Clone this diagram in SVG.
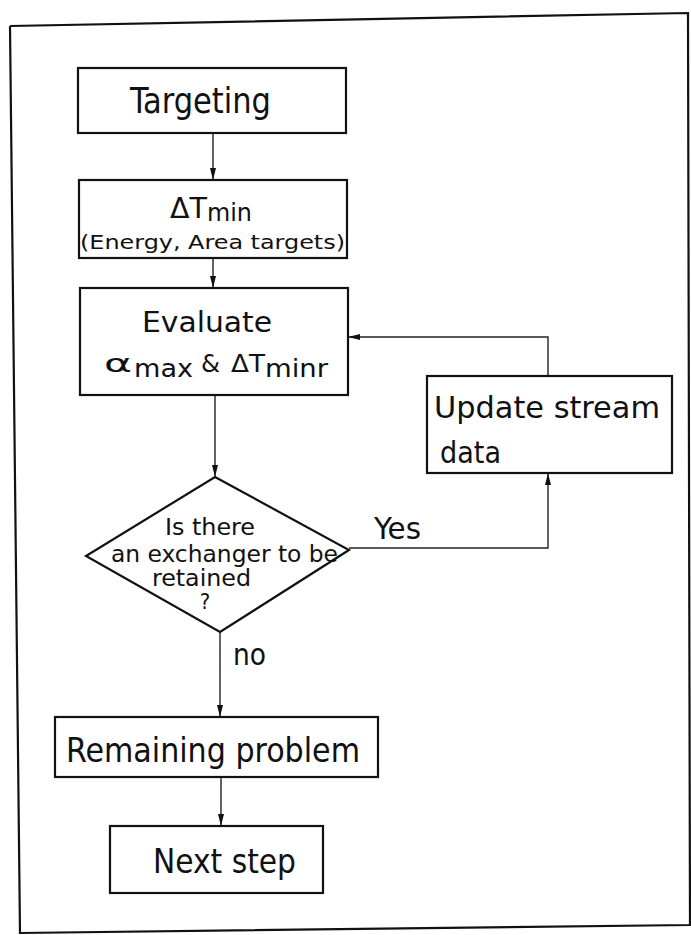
<svg xmlns="http://www.w3.org/2000/svg" width="691" height="935" viewBox="0 0 691 935">
<defs>
<style>
.box{fill:none;stroke:#111;stroke-width:2.2}
.frame{fill:none;stroke:#111;stroke-width:2.2}
.conn{fill:none;stroke:#222;stroke-width:1.4}
text{font-family:"DejaVu Sans Condensed","Liberation Sans Narrow","Liberation Sans",sans-serif;fill:#111;font-stretch:condensed}
</style>
<marker id="ah" viewBox="0 0 12 8" refX="12" refY="4" markerWidth="12" markerHeight="8" markerUnits="userSpaceOnUse" orient="auto">
<path d="M0,1 L12,4 L0,7 Z" fill="#111"/>
</marker>
</defs>
<rect width="691" height="935" fill="#fff"/>
<path class="frame" d="M10,26 L688,13 L690,926 M691,925 L20,933 L10,26"/>
<g id="connectors">
<path class="conn" d="M213,133 L213,180" marker-end="url(#ah)"/>
<path class="conn" d="M213,258 L213,288" marker-end="url(#ah)"/>
<path class="conn" d="M215,395 L215,477" marker-end="url(#ah)"/>
<path class="conn" d="M349,548 L548,548 L548,473" marker-end="url(#ah)"/>
<path class="conn" d="M548,376 L548,337 L348,337" marker-end="url(#ah)"/>
<path class="conn" d="M220,632 L220,717" marker-end="url(#ah)"/>
<path class="conn" d="M221,777 L221,826" marker-end="url(#ah)"/>
<text x="374" y="539" font-size="31" textLength="47" lengthAdjust="spacingAndGlyphs">Yes</text>
<text x="233" y="665" font-size="31" textLength="33" lengthAdjust="spacingAndGlyphs">no</text>
</g>
<g id="targeting">
<rect class="box" x="78" y="68" width="268" height="65"/>
<text x="130" y="113" font-size="35" textLength="141" lengthAdjust="spacingAndGlyphs">Targeting</text>
</g>
<g id="dtmin">
<rect class="box" x="79" y="180" width="268" height="78"/>
<text x="170" y="218" font-size="28" textLength="37" lengthAdjust="spacingAndGlyphs">ΔT</text>
<text x="207" y="221" font-size="25" textLength="45" lengthAdjust="spacingAndGlyphs">min</text>
<text x="80" y="249" font-size="20" textLength="265" lengthAdjust="spacingAndGlyphs">(Energy, Area targets)</text>
</g>
<g id="evaluate">
<rect class="box" x="80" y="288" width="268" height="107"/>
<text x="142" y="332" font-size="28" textLength="130" lengthAdjust="spacingAndGlyphs">Evaluate</text>
<text x="104" y="372" font-size="24" textLength="28" lengthAdjust="spacingAndGlyphs">α</text>
<text x="134" y="377" font-size="25" textLength="59" lengthAdjust="spacingAndGlyphs">max</text>
<text x="201" y="372" font-size="25" textLength="19" lengthAdjust="spacingAndGlyphs">&amp;</text>
<text x="231" y="372" font-size="25" textLength="34" lengthAdjust="spacingAndGlyphs">ΔT</text>
<text x="265" y="377" font-size="24" textLength="63" lengthAdjust="spacingAndGlyphs">minr</text>
</g>
<g id="update">
<rect class="box" x="427" y="376" width="245" height="97"/>
<text x="434" y="418" font-size="30" textLength="226" lengthAdjust="spacingAndGlyphs">Update stream</text>
<text x="440" y="463" font-size="31" textLength="61" lengthAdjust="spacingAndGlyphs">data</text>
</g>
<g id="decision">
<path class="box" d="M215,477 L349,550 L220,632 L86,556 Z"/>
<text x="210" y="535" font-size="23" text-anchor="middle" textLength="90" lengthAdjust="spacingAndGlyphs">Is there</text>
<text x="111" y="562" font-size="23" textLength="227" lengthAdjust="spacingAndGlyphs">an exchanger to be</text>
<text x="152" y="586" font-size="23" textLength="99" lengthAdjust="spacingAndGlyphs">retained</text>
<text x="205" y="609" font-size="22" text-anchor="middle">?</text>
</g>
<g id="remaining">
<rect class="box" x="55" y="717" width="323" height="60"/>
<text x="66" y="762" font-size="34" textLength="294" lengthAdjust="spacingAndGlyphs">Remaining problem</text>
</g>
<g id="next">
<rect class="box" x="110" y="826" width="213" height="67"/>
<text x="153" y="873" font-size="33" textLength="143" lengthAdjust="spacingAndGlyphs">Next step</text>
</g>
</svg>
